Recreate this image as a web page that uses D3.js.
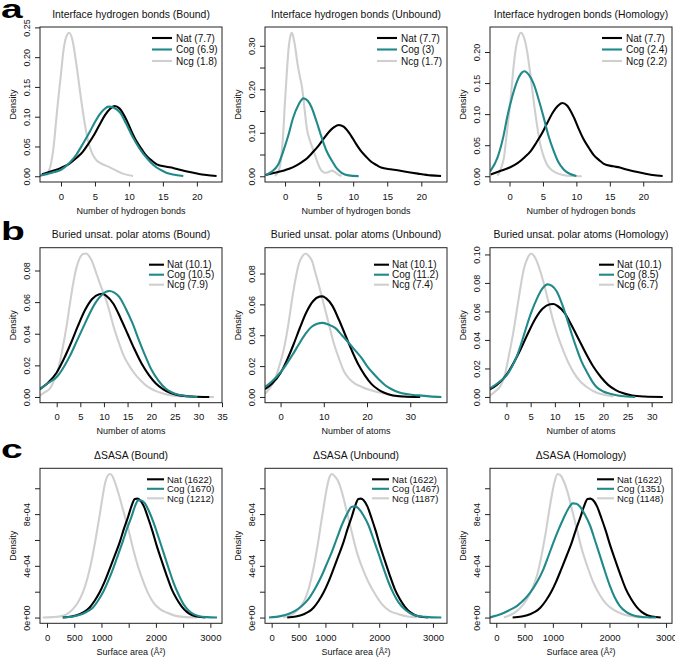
<!DOCTYPE html>
<html>
<head>
<meta charset="utf-8">
<script src="https://cdn.jsdelivr.net/npm/d3@7"></script>
<style>
  body { margin: 0; background: #fff; }
  svg text { font-family: "Liberation Sans", Arial, Helvetica, sans-serif; fill: #111; }
</style>
</head>
<body>
<svg id="chart" width="675" height="658"></svg>
<script>
// ---- data: density curves, [x, density] ----

// interface hydrogen bonds
var hbNat = [[-2.8,0.003],[-1.5,0.008],[0,0.014],[1.2,0.021],[2.3,0.031],[3.2,0.041],[4.0,0.054],[4.9,0.070],[5.7,0.087],[6.5,0.103],[7.2,0.113],[7.9,0.118],[8.6,0.114],[9.7,0.093],[10.4,0.075],[11.1,0.059],[11.9,0.045],[12.6,0.034],[13.4,0.026],[14.1,0.020],[15.5,0.016],[16.5,0.014],[17.5,0.011],[19.5,0.006],[21.4,0.002],[22.9,0.0005]];
var hbCogBound = [[-3.1,0.001],[-2,0.004],[-1,0.007],[0,0.011],[1.2,0.022],[2.3,0.037],[3.3,0.056],[4.3,0.076],[5.0,0.091],[5.7,0.104],[6.4,0.113],[7.0,0.117],[7.8,0.115],[8.7,0.107],[9.6,0.088],[10.6,0.065],[11.6,0.046],[12.6,0.031],[13.6,0.019],[14.6,0.011],[15.5,0.006],[16.5,0.003],[18.0,0.0003]];
var hbNcgBound = [[-2.1,0.002],[-1.6,0.015],[-1.1,0.048],[-0.7,0.095],[-0.4,0.130],[0,0.172],[0.35,0.210],[0.8,0.235],[1.2,0.241],[1.7,0.228],[2.3,0.185],[3.0,0.126],[3.5,0.088],[4.0,0.059],[4.6,0.038],[5.2,0.027],[6.0,0.021],[7.2,0.015],[8.2,0.009],[9.2,0.004],[10.6,0.0005]];
var hbCogUnbound = [[-2.9,0.002],[-2,0.010],[-1,0.027],[0,0.070],[0.5,0.095],[1.2,0.135],[2.0,0.165],[2.7,0.179],[3.3,0.174],[3.9,0.158],[4.6,0.127],[5.4,0.088],[6.1,0.058],[6.9,0.035],[7.6,0.018],[8.3,0.008],[9.3,0.002],[10.8,0.0002]];
var hbNcgUnbound = [[-1.5,0.001],[-1.0,0.010],[-0.7,0.027],[-0.3,0.09],[0,0.173],[0.25,0.235],[0.5,0.29],[0.75,0.320],[1.0,0.330],[1.25,0.318],[1.5,0.296],[1.8,0.262],[2.1,0.235],[2.5,0.204],[2.9,0.150],[3.2,0.110],[3.7,0.080],[4.2,0.058],[4.7,0.035],[5.1,0.019],[5.5,0.011],[5.9,0.008],[6.4,0.010],[6.9,0.013],[7.3,0.010],[7.8,0.004],[8.3,0.0005]];
var hbCogHomology = [[-2.9,0.008],[-1.8,0.030],[-0.9,0.065],[-0.35,0.095],[0.4,0.128],[1.1,0.152],[1.7,0.165],[2.2,0.169],[2.9,0.163],[3.6,0.149],[4.4,0.122],[5.1,0.095],[5.8,0.066],[6.6,0.041],[7.3,0.023],[8.1,0.011],[9.0,0.004],[10.0,0.0004]];
var hbNcgHomology = [[-1.8,0.001],[-1.3,0.012],[-0.84,0.030],[-0.3,0.080],[0.15,0.122],[0.5,0.165],[0.9,0.203],[1.3,0.223],[1.7,0.231],[2.1,0.225],[2.6,0.203],[3.1,0.165],[3.6,0.122],[4.1,0.083],[4.6,0.051],[5.1,0.032],[5.6,0.019],[6.3,0.010],[7.1,0.005],[8.0,0.002],[9.1,0.0003],[10.8,0.0001]];

// buried unsatisfied polar atoms
var buNat = [[-3.6,0.005],[-2,0.0085],[0,0.0155],[1.5,0.024],[3,0.034],[4.5,0.045],[6,0.055],[7.5,0.062],[9,0.065],[9.7,0.0652],[10.5,0.064],[12,0.059],[13.5,0.050],[15,0.040],[16.5,0.030],[18,0.021],[19.5,0.014],[21,0.0085],[22.5,0.005],[24,0.0027],[26,0.001],[28.5,0.0003],[32.3,0]];
var buCogBound = [[-3.5,0.005],[-2,0.0085],[0,0.0126],[1.5,0.019],[2.8,0.026],[4.2,0.035],[5.6,0.044],[7.0,0.053],[8.3,0.060],[9.7,0.065],[11.1,0.067],[12.2,0.066],[13.2,0.0635],[14.6,0.056],[16.0,0.047],[17.4,0.036],[18.75,0.026],[20.1,0.017],[21.5,0.0105],[23,0.0055],[24.3,0.003],[26,0.0012],[27.8,0.0004],[29.8,0]];
var buNcgBound = [[-3.5,0.001],[-2.5,0.003],[-1.4,0.0055],[-0.5,0.011],[0.35,0.018],[1.2,0.030],[2.1,0.045],[2.8,0.059],[3.5,0.072],[4.2,0.082],[4.9,0.088],[5.6,0.0905],[6.25,0.0908],[6.9,0.089],[7.6,0.085],[8.3,0.079],[9.0,0.073],[10.0,0.065],[10.5,0.061],[11.1,0.055],[12.1,0.044],[13.2,0.034],[14.2,0.026],[15.3,0.020],[16.7,0.014],[18.1,0.0095],[19.5,0.006],[20.8,0.004],[22.5,0.0022],[24.3,0.001],[27,0.0004],[30,0.0001],[33.3,0]];
var buCogUnbound = [[-3.6,0.0065],[-2,0.010],[0,0.016],[1.3,0.021],[2.7,0.027],[4.2,0.034],[5.8,0.041],[7.2,0.0455],[8.5,0.0475],[9.6,0.048],[11,0.047],[12.7,0.0446],[14.2,0.040],[15.8,0.035],[17.3,0.030],[18.8,0.025],[20,0.020],[21.2,0.016],[22.7,0.0115],[24.2,0.0076],[25.7,0.005],[27.3,0.003],[29.5,0.0017],[31.9,0.001],[34.5,0.0004],[37.2,0]];
var buNcgUnbound = [[-3.6,0.002],[-2.4,0.006],[-1.2,0.012],[-0.2,0.021],[0.8,0.0315],[1.8,0.047],[2.7,0.064],[3.5,0.077],[4.2,0.086],[5.0,0.091],[5.8,0.093],[6.5,0.0915],[7.3,0.088],[8.0,0.081],[8.8,0.073],[10.0,0.060],[11.2,0.047],[12.3,0.035],[13.5,0.025],[14.6,0.017],[15.8,0.012],[17.3,0.0085],[18.8,0.0065],[20.7,0.0045],[22.7,0.003],[25,0.0015],[27.3,0.0004],[30.4,0]];
var buCogHomology = [[-3.4,0.006],[-1.7,0.010],[0,0.015],[1.1,0.021],[2.2,0.029],[3.2,0.039],[4.2,0.050],[5.2,0.060],[6.3,0.069],[7.4,0.076],[8.5,0.079],[9.4,0.078],[10.4,0.074],[11.4,0.066],[12.5,0.055],[13.5,0.044],[14.5,0.034],[15.5,0.025],[16.6,0.0176],[17.6,0.0115],[18.6,0.007],[20,0.0038],[21.4,0.0023],[23,0.001],[24.8,0.0003],[26.6,0]];
var buNcgHomology = [[-3.4,0.001],[-2.3,0.004],[-1.2,0.008],[-0.3,0.016],[0.5,0.029],[1.4,0.045],[2.2,0.062],[2.9,0.077],[3.6,0.090],[4.3,0.097],[5.1,0.1007],[5.7,0.099],[6.3,0.095],[7.1,0.087],[8.0,0.076],[8.8,0.065],[9.7,0.053],[10.7,0.042],[11.8,0.032],[12.8,0.024],[13.8,0.0176],[15.2,0.011],[16.6,0.007],[18,0.004],[19.3,0.0023],[21,0.001],[22.1,0.0004]];

// delta SASA
var saNat = [[289,0],[450,0.08e-4],[597,0.26e-4],[690,0.45e-4],[782,0.78e-4],[875,1.3e-4],[967,1.95e-4],[1060,2.8e-4],[1151,3.77e-4],[1245,4.8e-4],[1336,5.84e-4],[1415,6.9e-4],[1490,7.8e-4],[1550,8.6e-4],[1613,9.17e-4],[1660,9.2e-4],[1706,9.1e-4],[1780,8.6e-4],[1860,7.66e-4],[1935,6.7e-4],[2013,5.58e-4],[2105,4.4e-4],[2198,3.25e-4],[2290,2.2e-4],[2383,1.43e-4],[2475,0.85e-4],[2568,0.44e-4],[2660,0.2e-4],[2752,0.08e-4],[2906,0]];
var saCogBound = [[289,0],[500,0.1e-4],[659,0.3e-4],[750,0.5e-4],[844,0.78e-4],[936,1.3e-4],[1028,1.95e-4],[1120,2.8e-4],[1213,3.77e-4],[1305,4.85e-4],[1398,5.97e-4],[1475,6.95e-4],[1552,7.8e-4],[1615,8.6e-4],[1675,9.06e-4],[1735,9.05e-4],[1798,8.83e-4],[1875,8.2e-4],[1952,7.4e-4],[2045,6.25e-4],[2137,5.06e-4],[2230,3.85e-4],[2321,2.73e-4],[2414,1.8e-4],[2506,1.04e-4],[2600,0.55e-4],[2691,0.26e-4],[2800,0.1e-4],[2937,0.03e-4],[3122,0]];
var saNcgBound = [[-80,0],[100,0.03e-4],[289,0.13e-4],[380,0.3e-4],[474,0.65e-4],[565,1.15e-4],[659,1.95e-4],[740,3.0e-4],[813,4.29e-4],[890,6.0e-4],[967,7.92e-4],[1015,9.2e-4],[1059,10.26e-4],[1105,10.9e-4],[1151,11.1e-4],[1200,10.95e-4],[1244,10.5e-4],[1320,9.5e-4],[1398,8.3e-4],[1490,6.9e-4],[1582,5.3e-4],[1675,3.9e-4],[1767,2.8e-4],[1860,1.85e-4],[1952,1.17e-4],[2075,0.65e-4],[2198,0.39e-4],[2350,0.15e-4],[2506,0.05e-4],[2752,0]];
var saCogUnbound = [[-50,0],[186,0.13e-4],[310,0.28e-4],[435,0.52e-4],[560,0.9e-4],[683,1.43e-4],[808,2.25e-4],[932,3.25e-4],[1025,4.15e-4],[1118,5.06e-4],[1211,6.1e-4],[1304,7.14e-4],[1400,8.0e-4],[1491,8.57e-4],[1555,8.6e-4],[1615,8.44e-4],[1708,7.9e-4],[1801,7.14e-4],[1895,6.05e-4],[1988,4.94e-4],[2081,3.8e-4],[2174,2.73e-4],[2267,1.85e-4],[2360,1.17e-4],[2485,0.6e-4],[2609,0.26e-4],[2733,0.1e-4],[2857,0.05e-4],[3155,0]];
var saNcgUnbound = [[217,0],[330,0.15e-4],[435,0.39e-4],[530,0.8e-4],[621,1.43e-4],[700,2.4e-4],[776,3.77e-4],[855,5.6e-4],[932,7.66e-4],[980,8.9e-4],[1025,10.0e-4],[1070,10.8e-4],[1118,11.1e-4],[1180,10.9e-4],[1242,10.5e-4],[1320,9.5e-4],[1398,8.18e-4],[1490,6.6e-4],[1584,5.06e-4],[1690,3.8e-4],[1801,2.73e-4],[1925,1.8e-4],[2050,1.04e-4],[2200,0.5e-4],[2360,0.26e-4],[2530,0.08e-4],[2702,0]];
var saCogHomology = [[-111,0.01e-4],[-20,0.13e-4],[76,0.26e-4],[220,0.55e-4],[368,0.91e-4],[485,1.35e-4],[602,1.95e-4],[720,2.75e-4],[836,3.77e-4],[925,4.8e-4],[1012,5.84e-4],[1100,6.8e-4],[1187,7.66e-4],[1270,8.4e-4],[1351,8.83e-4],[1415,8.8e-4],[1480,8.57e-4],[1567,7.95e-4],[1655,7.14e-4],[1742,6.0e-4],[1830,4.81e-4],[1918,3.6e-4],[2006,2.47e-4],[2094,1.55e-4],[2181,0.91e-4],[2300,0.42e-4],[2415,0.18e-4],[2530,0.07e-4],[2649,0.02e-4],[2825,0]];
var saNcgHomology = [[134,0],[250,0.2e-4],[368,0.52e-4],[456,0.9e-4],[544,1.43e-4],[632,2.2e-4],[719,3.25e-4],[795,4.7e-4],[865,6.36e-4],[925,8.0e-4],[982,9.48e-4],[1030,10.5e-4],[1082,11.1e-4],[1135,11.0e-4],[1187,10.6e-4],[1260,9.7e-4],[1333,8.44e-4],[1420,6.9e-4],[1509,5.32e-4],[1610,3.95e-4],[1713,2.73e-4],[1830,1.75e-4],[1947,1.04e-4],[2090,0.55e-4],[2240,0.26e-4],[2390,0.1e-4],[2532,0]];

// titles, legend labels, axis ranges
var titles = ["Interface hydrogen bonds (Bound)", "Interface hydrogen bonds (Unbound)", "Interface hydrogen bonds (Homology)",
              "Buried unsat. polar atoms (Bound)", "Buried unsat. polar atoms (Unbound)", "Buried unsat. polar atoms (Homology)",
              "\u0394SASA (Bound)", "\u0394SASA (Unbound)", "\u0394SASA (Homology)"];
var xLabels = ["Number of hydrogen bonds", "Number of atoms", "Surface area (\u00c5\u00b2)"];
var natMeans = ["7.7", "10.1", "1622"];
var cogMeans = ["6.9", "3", "2.4", "10.5", "11.2", "8.5", "1670", "1467", "1351"];
var ncgMeans = ["1.8", "1.7", "2.2", "7.9", "7.4", "6.7", "1212", "1187", "1148"];
var xDomains = [[-3.09, 23.7], [-2.94, 23.77], [-2.92, 24.3],
                [-3.54, 35.0], [-3.6, 38.5], [-3.4, 34.2],
                [-129, 3214], [-124, 3261], [-111, 3105]];
var xSteps = [5, 5, 5, 5, 10, 5, 500, 500, 500];
var ySteps = [0.05, 0.05, 0.05, 0.02, 0.02, 0.02, 2e-4, 2e-4, 2e-4];

var natCurves = [hbNat, buNat, saNat];
var cogCurves = [hbCogBound, hbCogUnbound, hbCogHomology, buCogBound, buCogUnbound, buCogHomology, saCogBound, saCogUnbound, saCogHomology];
var ncgCurves = [hbNcgBound, hbNcgUnbound, hbNcgHomology, buNcgBound, buNcgUnbound, buNcgHomology, saNcgBound, saNcgUnbound, saNcgHomology];

var colNat = "#000000", colCog = "#21898a", colNcg = "#cfcfcf";

// ---- layout ----
var svg = d3.select("#chart");
var boxL = 40, boxW = 182, boxH = 155, colStep = 225;
var rowTops = [27, 247.7, 468.3];
var letters = ["a", "b", "c"];
var letterBase = [18, 240, 458];
// legend placement per row (relative to box right / top)
var legendRows = [
  { x1: -70, x2: -50, tx: -46, y0: 11, dy: 11.5, fs: 10 },
  { x1: -73, x2: -58, tx: -55, y0: 17, dy: 10, fs: 10 },
  { x1: -75, x2: -58, tx: -55, y0: 11, dy: 9.5, fs: 9.5 }
];

function sciFmt(d) {
  var s = d.toExponential(0);
  return s.replace(/e([+-])(\d)$/, "e$10$2");
}

// R-like: drop labels that would crowd the previous one
function thinLabels(sel, horizontal, fs) {
  var gap = 0.833 * fs, lastEnd = -Infinity;
  sel.selectAll(".tick").each(function() {
    var t = d3.select(this).select("text");
    var w = t.node().getComputedTextLength();
    var tr = this.getAttribute("transform").match(/translate\(([-\d.e]+),([-\d.e]+)\)/);
    var c = horizontal ? +tr[1] : -(+tr[2]);
    var a = c - w / 2;
    if (a - lastEnd < gap) t.remove();
    else lastEnd = c + w / 2;
  });
}

letters.forEach(function(l, r) {
  svg.append("text")
     .attr("transform", "translate(1," + letterBase[r] + ") scale(1.5,1)")
     .style("font-size", "26px").style("font-weight", "bold").style("fill", "#000")
     .text(l);
});

titles.forEach(function(title, i) {
  var col = i % 3, row = Math.floor(i / 3);
  var left = boxL + col * colStep, top = rowTops[row];
  var g = svg.append("g").attr("transform", "translate(" + left + "," + top + ")");

  var series = [
    { values: ncgCurves[i], color: colNcg, label: "Ncg (" + ncgMeans[i] + ")" },
    { values: natCurves[row], color: colNat, label: "Nat (" + natMeans[row] + ")" },
    { values: cogCurves[i], color: colCog, label: "Cog (" + cogMeans[i] + ")" }
  ];
  var ymax = d3.max(series, function(s) { return d3.max(s.values, function(d) { return d[1]; }); });

  var x = d3.scaleLinear().domain(xDomains[i]).range([0, boxW]);
  var y = d3.scaleLinear().domain([-0.04 * ymax, 1.04 * ymax]).range([boxH, 0]);

  g.append("clipPath").attr("id", "clip" + i)
   .append("rect").attr("width", boxW).attr("height", boxH);

  var line = d3.line()
               .x(function(d) { return x(d[0]); })
               .y(function(d) { return y(d[1]); })
               .curve(d3.curveMonotoneX);

  g.append("g").attr("clip-path", "url(#clip" + i + ")")
   .selectAll("path")
   .data(series)
   .enter()
     .append("path")
     .attr("d", function(s) { return line(s.values); })
     .attr("fill", "none")
     .attr("stroke", function(s) { return s.color; })
     .attr("stroke-width", 2.1)
     .attr("stroke-linejoin", "round");

  // box
  g.append("rect").attr("width", boxW).attr("height", boxH)
   .attr("fill", "none").attr("stroke", "#222").attr("stroke-width", 1);

  // x axis
  var xd = xDomains[i], xs = xSteps[i];
  var xTicks = d3.range(Math.ceil(xd[0] / xs), Math.floor(xd[1] / xs + 1e-9) + 1).map(function(k) { return k * xs; });
  var xAxis = g.append("g").attr("transform", "translate(0," + boxH + ")")
    .call(d3.axisBottom(x).tickValues(xTicks).tickSize(4.5).tickPadding(6.5)
            .tickFormat(function(d) { return String(Math.round(d)); }));
  xAxis.select(".domain").remove();
  xAxis.selectAll("line").attr("stroke", "#222");
  xAxis.selectAll("text").style("font-size", "9.5px").attr("fill", "#111");
  thinLabels(xAxis, true, 9.5);

  // y axis
  var ys = ySteps[i], yd = y.domain();
  var yTicks = d3.range(Math.ceil(yd[0] / ys - 1e-9), Math.floor(yd[1] / ys + 1e-9) + 1).map(function(k) { return k * ys; });
  var yFmt = row === 2 ? sciFmt : d3.format(".2f");
  var yAxis = g.append("g")
    .call(d3.axisLeft(y).tickValues(yTicks).tickSize(5).tickFormat(yFmt));
  yAxis.select(".domain").remove();
  yAxis.selectAll("line").attr("stroke", "#222");
  yAxis.selectAll("text")
       .attr("x", 0).attr("y", 0).attr("dy", null)
       .attr("text-anchor", "middle")
       .attr("transform", "translate(-9.8,0) rotate(-90)")
       .style("font-size", "9px").attr("fill", "#111");
  thinLabels(yAxis, false, 9);

  // titles and labels
  g.append("text").attr("x", boxW / 2).attr("y", -9.3).attr("text-anchor", "middle")
   .style("font-size", "10.4px").text(title);
  g.append("text").attr("x", boxW / 2).attr("y", boxH + 31.5).attr("text-anchor", "middle")
   .style("font-size", "9px").text(xLabels[row]);
  g.append("text").attr("transform", "translate(-23.8," + (boxH / 2) + ") rotate(-90)")
   .attr("text-anchor", "middle").style("font-size", "9px").text("Density");

  // legend (Nat, Cog, Ncg)
  var lg = legendRows[row];
  var legendItems = [series[1], series[2], series[0]];
  var leg = g.append("g").attr("transform", "translate(" + boxW + "," + lg.y0 + ")");
  legendItems.forEach(function(s, k) {
    leg.append("line").attr("x1", lg.x1).attr("x2", lg.x2)
       .attr("y1", k * lg.dy).attr("y2", k * lg.dy)
       .attr("stroke", s.color).attr("stroke-width", 2.1);
    leg.append("text").attr("x", lg.tx).attr("y", k * lg.dy).attr("dy", "0.35em")
       .style("font-size", lg.fs + "px").text(s.label);
  });
});
</script>
</body>
</html>
